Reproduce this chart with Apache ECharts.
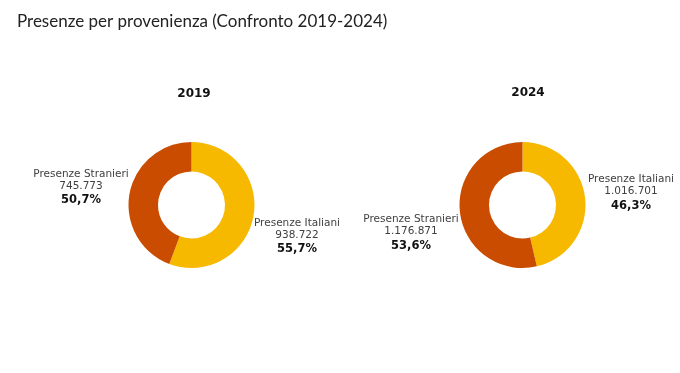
<!DOCTYPE html>
<html>
<head>
<meta charset="utf-8">
<script src="https://cdn.jsdelivr.net/npm/echarts@6/dist/echarts.min.js"></script>
<style>html,body{margin:0;padding:0;background:#fff}#c{width:680px;height:373px}</style>
</head>
<body>
<div id="c"></div>
<script>
var chartTitle = 'Presenze per provenienza (Confronto 2019-2024)';
var categories = ['Presenze Italiani', 'Presenze Stranieri'];
var years = ['2019', '2024'];
var values2019 = [938722, 745773];
var values2024 = [1016701, 1176871];
var pctLabels2019 = ['55,7%', '50,7%'];
var pctLabels2024 = ['46,3%', '53,6%'];
var colors = ['#F6B900', '#C94C00'];

function fmt(v) { return String(v).replace(/\B(?=(\d{3})+(?!\d))/g, '.'); }

var labelPos = {
  '2019': [[297, 237], [81, 188]],
  '2024': [[631, 194], [411, 234]]
};

function makeSeries(year, vals, pcts, center) {
  return {
    type: 'pie',
    name: year,
    center: center,
    radius: [33.5, 63],
    startAngle: 90,
    clockwise: true,
    silent: true,
    avoidLabelOverlap: false,
    itemStyle: { borderWidth: 0 },
    emphasis: { disabled: true },
    labelLine: { show: false },
    label: {
      show: true,
      position: 'outside',
      formatter: function (p) {
        return '{n|' + p.name + '}\n{v|' + fmt(p.value) + '}\n{p|' + pcts[p.dataIndex] + '}';
      },
      rich: {
        n: { fontFamily: 'DejaVu Sans', fontSize: 10.5, color: '#404040', lineHeight: 12.5, align: 'center' },
        v: { fontFamily: 'DejaVu Sans', fontSize: 10.5, color: '#404040', lineHeight: 12.5, align: 'center' },
        p: { fontFamily: 'DejaVu Sans', fontSize: 11.5, fontWeight: 'bold', color: '#111', lineHeight: year === '2024' ? 17 : 15, align: 'center' }
      }
    },
    labelLayout: function (params) {
      var pos = labelPos[year][params.dataIndex];
      return { x: pos[0], y: pos[1], align: 'center', verticalAlign: 'middle' };
    },
    data: categories.map(function (c, i) {
      return { name: c, value: vals[i], itemStyle: { color: colors[i] } };
    })
  };
}

var chart = echarts.init(document.getElementById('c'), null, { renderer: 'canvas' });
chart.setOption({
  backgroundColor: '#fff',
  animation: false,
  title: [
    { text: chartTitle, left: 12, top: 8, textStyle: { fontFamily: 'Lato', fontWeight: 'normal', fontSize: 17, color: '#222' } },
    { text: years[0], left: 189, top: 83, textAlign: 'center', textStyle: { fontFamily: 'DejaVu Sans', fontWeight: 'bold', fontSize: 12, color: '#111' } },
    { text: years[1], left: 523, top: 82, textAlign: 'center', textStyle: { fontFamily: 'DejaVu Sans', fontWeight: 'bold', fontSize: 12, color: '#111' } }
  ],
  series: [
    makeSeries(years[0], values2019, pctLabels2019, [191.5, 205]),
    makeSeries(years[1], values2024, pctLabels2024, [522.5, 205])
  ]
});
</script>
</body>
</html>
